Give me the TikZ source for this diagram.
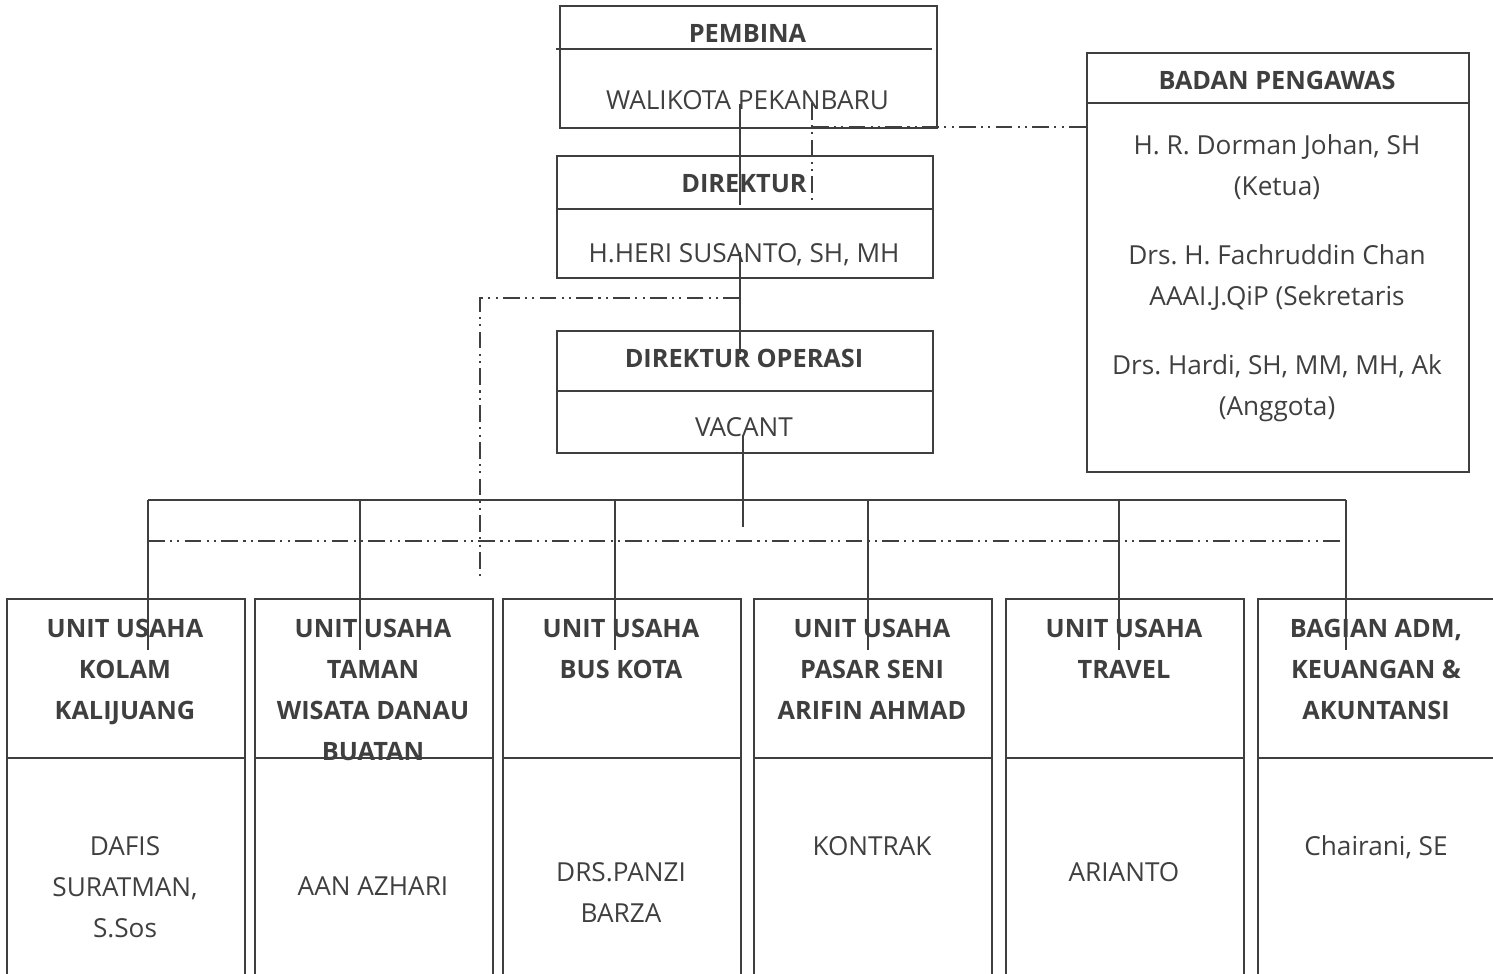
\documentclass[tikz,border=0pt]{standalone}
\usepackage{fontspec}
\setmainfont{Open Sans}
\frenchspacing
\usepackage{tikz}
\usetikzlibrary{positioning}
\definecolor{ink}{HTML}{3F3F3F}
\newcommand\pxl{0.02cm}
\tikzset{
  orgbox/.style={draw=ink, line width=1.1pt, inner sep=0pt, anchor=north west},
  headtxt/.style={text=ink, font=\fontsize{14.4}{23.2}\selectfont\bfseries, align=center, anchor=base, inner sep=0pt},
  nametxt/.style={text=ink, font=\fontsize{14.9}{23.2}\selectfont, align=center, anchor=base, inner sep=0pt},
  link/.style={draw=ink, line width=1pt},
  dotlink/.style={draw=ink, line width=1pt, dash pattern=on 9.5pt off 3pt on 1.2pt off 3pt on 1.2pt off 3pt},
}

\begin{document}
\begin{tikzpicture}[x=\pxl, y=-\pxl]
    \useasboundingbox (0,0) rectangle (1493,973);
    \clip (0,0) rectangle (1493,973);
    % pimpinan (text nodes sit on the baseline of their last line)
    \node[orgbox, minimum width=377*\pxl, minimum height=122*\pxl] (pembina) at (559,5) {};
    \node[orgbox, minimum width=376*\pxl, minimum height=122*\pxl] (direktur) at (556,155) {};
    \node[orgbox, minimum width=376*\pxl, minimum height=122*\pxl] (operasi) at (556,330) {};
    \node[orgbox, minimum width=382*\pxl, minimum height=419*\pxl] (pengawas) at (1086,52) {};
    \draw[ink, line width=1.1pt] (556,49) -- (932,49);                    % divider pembina
    \draw[ink, line width=1.1pt] (direktur.west |- 0,209) -- (direktur.east |- 0,209);
    \draw[ink, line width=1.1pt] (operasi.west |- 0,391) -- (operasi.east |- 0,391);
    \draw[ink, line width=1.1pt] (pengawas.west |- 0,103) -- (pengawas.east |- 0,103);
    \node[headtxt] (pembinaH) at (747.5,43) {PEMBINA};
    \node[nametxt] (pembinaN) at (747.5,110) {WALIKOTA PEKANBARU};
    \node[headtxt] (direkturH) at (744,193) {DIREKTUR};
    \node[nametxt] (direkturN) at (744,262) {H.HERI SUSANTO, SH, MH};
    \node[headtxt] (operasiH) at (744,367) {DIREKTUR OPERASI};
    \node[nametxt] (operasiN) at (744,436) {VACANT};
    \node[headtxt] (pengawasH) at (1277,90) {BADAN PENGAWAS};
    \node[nametxt] (pengawasN) at (1277,415) {H. R. Dorman Johan, SH\\(Ketua)\\[16pt]
        Drs. H. Fachruddin Chan\\AAAI.J.QiP (Sekretaris\\[16pt]
        Drs. Hardi, SH, MM, MH, Ak\\(Anggota)};
    % unit usaha
    \foreach \xl/\nm/\hd/\hy/\bd/\by in {
        6/kolam/{UNIT USAHA\\KOLAM\\KALIJUANG}/719/{DAFIS\\SURATMAN,\\S.Sos}/937,
        254/taman/{UNIT USAHA\\TAMAN\\WISATA DANAU\\BUATAN}/760/{AAN AZHARI}/895,
        502/bus/{UNIT USAHA\\BUS KOTA}/678/{DRS.PANZI\\BARZA}/922,
        753/pasar/{UNIT USAHA\\PASAR SENI\\ARIFIN AHMAD}/719/{KONTRAK}/855,
        1005/travel/{UNIT USAHA\\TRAVEL}/678/{ARIANTO}/881,
        1257/adm/{BAGIAN ADM,\\KEUANGAN \&\\AKUNTANSI}/719/{Chairani, SE}/855} {
        \node[orgbox, minimum width=238*\pxl, minimum height=420*\pxl] (\nm) at (\xl,598) {};
        \draw[ink, line width=1.1pt] (\nm.west |- 0,758) -- (\nm.east |- 0,758);
        \node[headtxt] (\nm H) at (\xl+119,\hy) {\hd};
        \node[nametxt] (\nm N) at (\xl+119,\by) {\bd};
    }
    % garis komando
    \coordinate (pembinaT) at (740,104);
    \coordinate (direkturB) at (740,205);
    \coordinate (direkturT) at (740,252);
    \coordinate (operasiB) at (740,354);
    \coordinate (operasiT) at (743,435);
    \coordinate (busC) at (743,527);
    \coordinate (busL) at (148,500);
    \coordinate (busR) at (1346,500);
    \draw[link] (pembinaT) -- (direkturB);
    \draw[link] (direkturT) -- (operasiB);
    \draw[link] (operasiT) -- (busC);
    \draw[link] (busL) -- (busR);
    \foreach \xd in {148,360,615,868,1119,1346}
        \draw[link] (\xd,500) -- (\xd,650);
    % garis koordinasi
    \coordinate (pengawasT) at (812,103);
    \coordinate (pengawasB) at (812,200);
    \coordinate (pengawasL) at (812,127);
    \coordinate (koordT) at (740,298);
    \coordinate (koordB) at (480,578);
    \draw[dotlink] (pengawasT) -- (pengawasB);
    \draw[dotlink] (pengawasL) -- (pengawas.west |- pengawasL);
    \draw[dotlink] (koordT) -| (koordB);
    \draw[dotlink] (148,541) -- (1342,541);
\end{tikzpicture}
\end{document}
